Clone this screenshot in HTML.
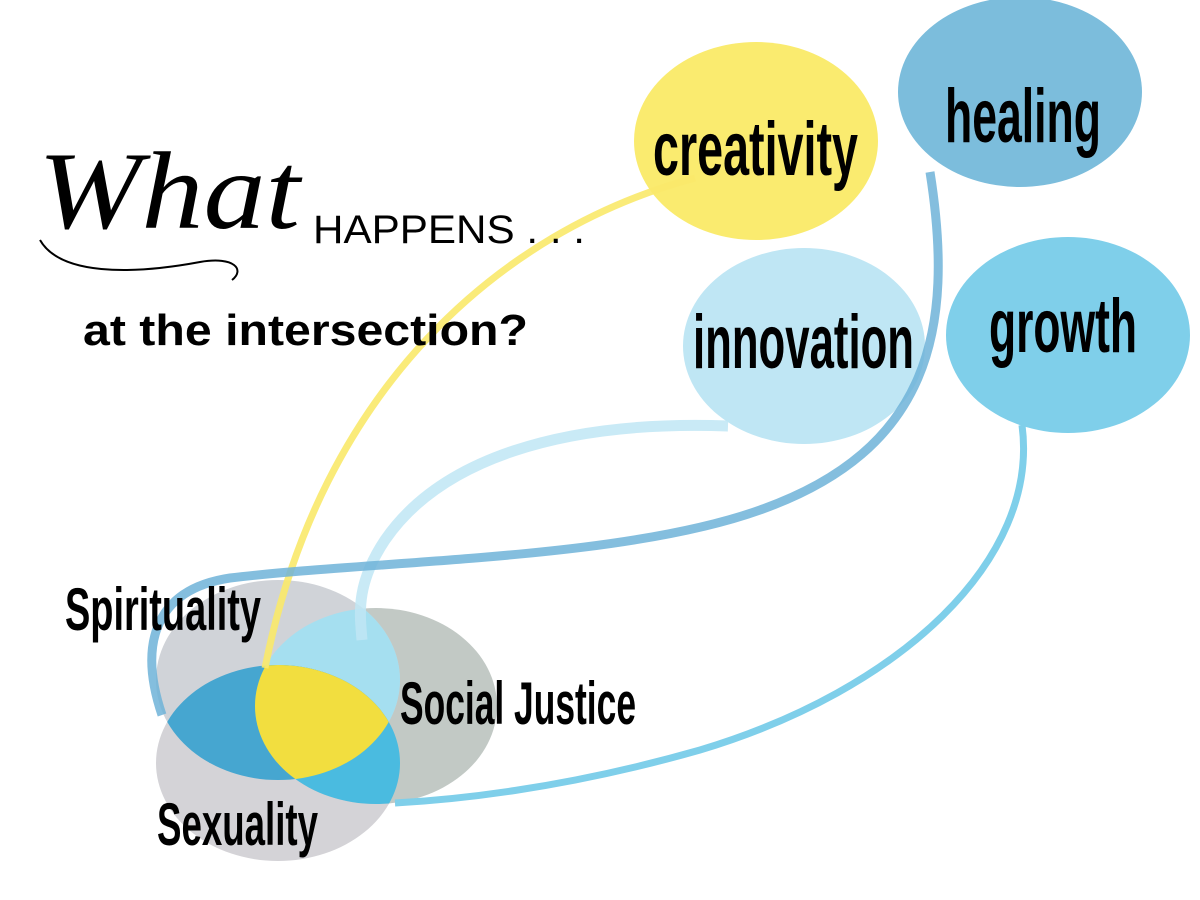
<!DOCTYPE html>
<html><head><meta charset="utf-8"><style>
html,body{margin:0;padding:0;background:#fff;width:1200px;height:900px;overflow:hidden}
.c{font-family:"Liberation Sans Narrow","Liberation Sans",sans-serif;font-weight:bold;fill:#000}
</style></head><body>
<svg width="1200" height="900" viewBox="0 0 1200 900" xmlns="http://www.w3.org/2000/svg">
<defs>
<clipPath id="sp"><ellipse cx="278" cy="680" rx="122" ry="100"/></clipPath>
<clipPath id="sj"><ellipse cx="376" cy="706" rx="121" ry="98"/></clipPath>
<clipPath id="sx"><ellipse cx="278" cy="763" rx="122" ry="98"/></clipPath>
</defs>
<ellipse cx="756" cy="141" rx="122" ry="99" fill="#faeb6f"/>
<ellipse cx="1020" cy="92" rx="122" ry="95" fill="#7cbddc"/>
<ellipse cx="804" cy="346" rx="121" ry="98" fill="#bfe6f4"/>
<ellipse cx="1068" cy="335" rx="122" ry="98" fill="#7fcfea"/>
<ellipse cx="278" cy="763" rx="122" ry="98" fill="#d4d3d7"/>
<ellipse cx="376" cy="706" rx="121" ry="98" fill="#c2c9c5"/>
<ellipse cx="278" cy="680" rx="122" ry="100" fill="#d0d3d8"/>
<g clip-path="url(#sp)"><ellipse cx="376" cy="706" rx="121" ry="98" fill="#a5dff0"/><ellipse cx="278" cy="763" rx="122" ry="98" fill="#46a6d0"/></g>
<g clip-path="url(#sj)"><ellipse cx="278" cy="763" rx="122" ry="98" fill="#4abbe0"/></g>
<g clip-path="url(#sj)"><g clip-path="url(#sx)"><ellipse cx="278" cy="680" rx="122" ry="100" fill="#f2de3f"/></g></g>
<path d="M695,178 C500,230 320,390 265,668" fill="none" stroke="#f9e96a" stroke-width="7" opacity="0.9"/>
<path d="M728,426 C560,420 440,460 385,540 C355,585 360,615 362,640" fill="none" stroke="#bfe6f4" stroke-width="11" opacity="0.85"/>
<path d="M930,172 C955,330 930,450 760,510 C620,560 380,560 230,578 C150,590 140,650 162,715" fill="none" stroke="#6eb3d8" stroke-width="9" opacity="0.85"/>
<path d="M1022,425 C1040,560 900,690 700,750 C560,790 450,800 395,803" fill="none" stroke="#7fcfea" stroke-width="7"/>
<text class="c" x="653" y="175" font-size="76" textLength="205" lengthAdjust="spacingAndGlyphs">creativity</text>
<text class="c" x="945" y="142" font-size="76" textLength="156" lengthAdjust="spacingAndGlyphs">healing</text>
<text class="c" x="693" y="368" font-size="76" textLength="221" lengthAdjust="spacingAndGlyphs">innovation</text>
<text class="c" x="989" y="352" font-size="76" textLength="148" lengthAdjust="spacingAndGlyphs">growth</text>
<text class="c" x="65" y="630" font-size="60" textLength="196" lengthAdjust="spacingAndGlyphs">Spirituality</text>
<text class="c" x="400" y="724" font-size="60" textLength="236" lengthAdjust="spacingAndGlyphs">Social Justice</text>
<text class="c" x="157" y="845" font-size="60" textLength="161" lengthAdjust="spacingAndGlyphs">Sexuality</text>
<text x="38" y="228" font-family="Liberation Serif,serif" font-style="italic" font-size="110" textLength="262" lengthAdjust="spacingAndGlyphs">What</text>
<path d="M40,240 C60,275 130,275 200,262 C235,256 245,270 232,280" fill="none" stroke="#000" stroke-width="2"/>
<text x="313" y="243" font-family="Liberation Sans,sans-serif" font-size="40" textLength="272" lengthAdjust="spacingAndGlyphs">HAPPENS . . .</text>
<text x="83" y="345" font-family="Liberation Sans,sans-serif" font-weight="bold" font-size="44" textLength="445" lengthAdjust="spacingAndGlyphs">at the intersection?</text>
</svg>
</body></html>
